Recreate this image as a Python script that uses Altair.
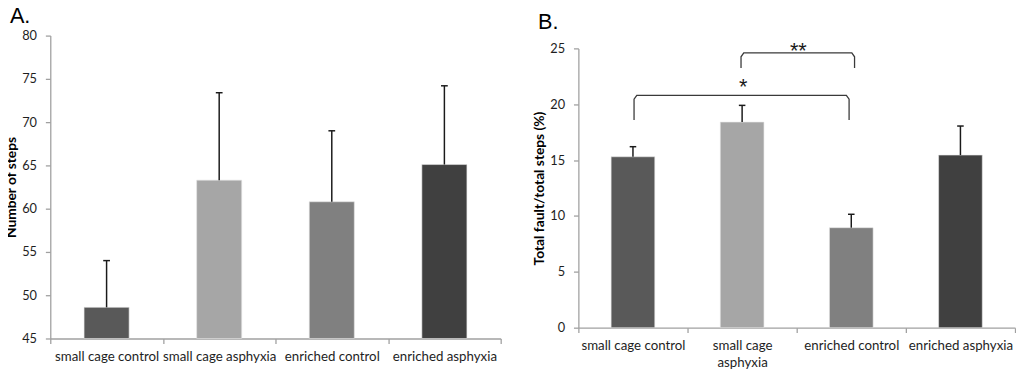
import altair as alt
import pandas as pd

# ---- data ----
groups = ["small cage control", "small cage asphyxia", "enriched control", "enriched asphyxia"]
labels_a = [["small cage control"], ["small cage asphyxia"], ["enriched control"], ["enriched asphyxia"]]
labels_b = [["small cage control"], ["small cage", "asphyxia"], ["enriched control"], ["enriched asphyxia"]]
bar_colors = ["#595959", "#a6a6a6", "#808080", "#404040"]

steps_mean = [48.6, 63.3, 60.8, 65.1]
steps_err = [5.4, 10.1, 8.2, 9.1]

fault_mean = [15.3, 18.4, 8.95, 15.45]
fault_err = [0.9, 1.5, 1.2, 2.6]

# significance brackets in panel B (x in category units, 0..4)
bracket_from = [0.51, 1.49]
bracket_to = [2.48, 2.53]
bracket_top = [20.8, 24.6]
bracket_leg = [18.6, 23.25]
star_text = ["*", "**"]
star_x = [1.51, 2.015]
star_y = [20.9, 24.15]

y_ticks_a = [45, 50, 55, 60, 65, 70, 75, 80]
y_ticks_b = [0, 5, 10, 15, 20, 25]

FONT = "Lato"
AXIS_GRAY = "#a0a0a0"
TEXT = "#1e1e1e"

PLOT_H = 308          # full panel plot height (panel A)
B_TOP_INSET = 13      # panel B axis starts lower ...
B_BOTTOM_INSET = 11   # ... and ends higher than panel A


def js_label(lines):
    if len(lines) == 1:
        return "'" + lines[0] + "'"
    return "[" + ",".join("'" + l + "'" for l in lines) + "]"


def label_expr(labels):
    expr = "''"
    for i in reversed(range(len(labels))):
        expr = f"datum.value == {i + 0.5} ? {js_label(labels[i])} : ({expr})"
    return expr


x_values = [i * 0.5 for i in range(2 * len(groups) + 1)]


def x_axis(labels, offset):
    return alt.Axis(
        values=x_values,
        labelExpr=label_expr(labels),
        title=None,
        grid=False,
        offset=offset,
        domainColor=AXIS_GRAY,
        domainWidth=1.3,
        tickColor=AXIS_GRAY,
        tickWidth=1.3,
        tickSize=5,
        tickOpacity={"condition": {"test": "datum.value % 1 == 0", "value": 1}, "value": 0},
        labelOverlap=False,
        labelFlush=False,
        labelFont=FONT,
        labelFontSize=13.5,
        labelColor=TEXT,
        labelPadding=6,
        labelLineHeight=17,
        labelBaseline="top",
    )


def y_axis(title, ticks):
    return alt.Axis(
        values=ticks,
        title=title,
        grid=False,
        domainColor=AXIS_GRAY,
        domainWidth=1.3,
        tickColor=AXIS_GRAY,
        tickWidth=1.3,
        tickSize=5,
        labelFont=FONT,
        labelFontSize=13,
        labelColor=TEXT,
        labelPadding=9,
        titleFont=FONT,
        titleFontSize=14,
        titleFontWeight="bold",
        titleColor="#000000",
        titlePadding=3,
    )


def panel(means, errs, labels, ytitle, ydomain, yticks, width, letter, yrange=None, xoffset=0):
    df = pd.DataFrame({
        "group": groups,
        "idx": list(range(len(groups))),
        "mean": means,
        "err": errs,
    })
    base = alt.Chart(df).transform_calculate(
        pos="datum.idx + 0.5",
        left="datum.idx + 0.3",
        right="datum.idx + 0.7",
        upper="datum.mean + datum.err",
        capl="datum.idx + 0.47",
        capr="datum.idx + 0.53",
    )
    xscale = alt.Scale(domain=[0, len(groups)], nice=False, zero=False)
    if yrange is None:
        yscale = alt.Scale(domain=ydomain, nice=False, zero=False)
    else:
        yscale = alt.Scale(domain=ydomain, nice=False, zero=False, range=yrange)

    bars = base.mark_bar(stroke="#e6e6e6", strokeWidth=0.6).encode(
        x=alt.X("left:Q", scale=xscale, axis=x_axis(labels, xoffset)),
        x2="right:Q",
        y=alt.Y("mean:Q", scale=yscale, axis=y_axis(ytitle, yticks)),
        y2=alt.Y2(datum=ydomain[0]),
        color=alt.Color("group:N", scale=alt.Scale(domain=groups, range=bar_colors), legend=None),
    )
    err = base.mark_rule(color="#1a1a1a", strokeWidth=1.5).encode(
        x="pos:Q", y="mean:Q", y2="upper:Q"
    )
    cap = base.mark_rule(color="#1a1a1a", strokeWidth=1.5).encode(
        x="capl:Q", x2="capr:Q", y="upper:Q"
    )
    return alt.layer(bars, err, cap).properties(
        width=width,
        height=PLOT_H,
        title=alt.Title(
            letter, anchor="start", frame="bounds", fontSize=22, font="Liberation Sans",
            fontWeight="normal", color="#000000", offset=2, dx=5,
        ),
    )


panel_a = panel(steps_mean, steps_err, labels_a, "Number of steps", [45, 80], y_ticks_a,
                458, "A.")
panel_b_base = panel(fault_mean, fault_err, labels_b, "Total fault/total steps  (%)", [0, 25],
                     y_ticks_b, 444, "B.",
                     yrange=[PLOT_H - B_BOTTOM_INSET, B_TOP_INSET], xoffset=-B_BOTTOM_INSET)

# brackets
rows = []
d = 0.025  # corner rounding in category units
dy = 0.35
for k in range(len(bracket_from)):
    pts = [
        (bracket_from[k], bracket_leg[k]),
        (bracket_from[k], bracket_top[k] - dy),
        (bracket_from[k] + d, bracket_top[k]),
        (bracket_to[k] - d, bracket_top[k]),
        (bracket_to[k], bracket_top[k] - dy),
        (bracket_to[k], bracket_leg[k]),
    ]
    for j, (px, py) in enumerate(pts):
        rows.append({"b": k, "o": j, "bx": px, "by": py})
bdf = pd.DataFrame(rows)
brackets = alt.Chart(bdf).mark_line(color="#3a3a3a", strokeWidth=1.3).encode(
    x=alt.X("bx:Q"), y=alt.Y("by:Q"), detail="b:N", order="o:Q"
)
sdf = pd.DataFrame({"t": star_text, "sx": star_x, "sy": star_y})
stars = alt.Chart(sdf).mark_text(font="Liberation Sans", fontSize=22, color="#1a1a1a",
                                 baseline="alphabetic").encode(
    x="sx:Q", y="sy:Q", text="t:N"
)

panel_b = alt.layer(panel_b_base, brackets, stars)

chart = alt.hconcat(panel_a, panel_b, spacing=31).properties(
    padding={"left": -4, "top": -6, "right": 0, "bottom": 0}
).configure_view(stroke=None)

chart.save("out.html", embed_options={"renderer": "svg", "actions": False})
